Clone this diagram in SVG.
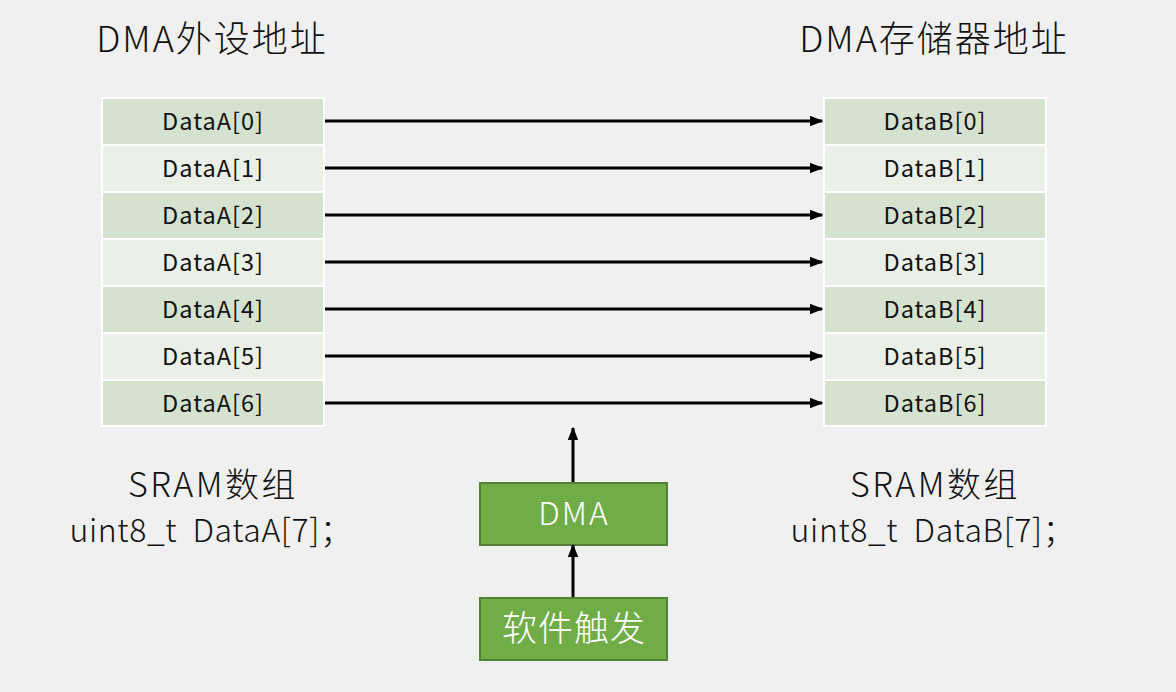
<svg xmlns="http://www.w3.org/2000/svg" width="1176" height="692" viewBox="0 0 1176 692">
<defs>
<marker id="ah" viewBox="0 0 10 10" refX="9" refY="5" markerWidth="4.5" markerHeight="3.5" markerUnits="strokeWidth" orient="auto" preserveAspectRatio="none">
<path d="M0,0 L10,5 L0,10 z" fill="#000"/>
</marker>
<style>
.t{font-family:"Noto Sans CJK SC","Noto Sans",sans-serif;fill:#111;text-anchor:middle;font-weight:300;white-space:pre}
.cell{font-size:23.5px;letter-spacing:1px;font-weight:400}
.title{font-size:36px;letter-spacing:2px}
.sram{font-size:34px;letter-spacing:2.5px}
.decl{font-size:32px;letter-spacing:0.6px}
.dk{fill:#d5e2cf;stroke:#fff;stroke-width:2}
.lt{fill:#eaf0e7;stroke:#fff;stroke-width:2}
.gb{fill:#70ad47;stroke:#548235;stroke-width:2}
.w{fill:#fff}
.ar{stroke:#000;stroke-width:3;fill:none;marker-end:url(#ah)}
</style>
</defs>
<rect width="1176" height="692" fill="#f0f0f0"/>
<text class="t title" x="212" y="52">DMA外设地址</text>
<text class="t title" x="934" y="52">DMA存储器地址</text>
<g id="arrayA">
<rect class="dk" x="102" y="98" width="222" height="47"/>
<rect class="lt" x="102" y="145" width="222" height="47"/>
<rect class="dk" x="102" y="192" width="222" height="47"/>
<rect class="lt" x="102" y="239" width="222" height="47"/>
<rect class="dk" x="102" y="286" width="222" height="47"/>
<rect class="lt" x="102" y="333" width="222" height="47"/>
<rect class="dk" x="102" y="380" width="222" height="46"/>
<text class="t cell" x="213" y="130">DataA[0]</text>
<text class="t cell" x="213" y="177">DataA[1]</text>
<text class="t cell" x="213" y="224">DataA[2]</text>
<text class="t cell" x="213" y="271">DataA[3]</text>
<text class="t cell" x="213" y="318">DataA[4]</text>
<text class="t cell" x="213" y="365">DataA[5]</text>
<text class="t cell" x="213" y="412">DataA[6]</text>
</g>
<g id="arrayB">
<rect class="dk" x="824" y="98" width="222" height="47"/>
<rect class="lt" x="824" y="145" width="222" height="47"/>
<rect class="dk" x="824" y="192" width="222" height="47"/>
<rect class="lt" x="824" y="239" width="222" height="47"/>
<rect class="dk" x="824" y="286" width="222" height="47"/>
<rect class="lt" x="824" y="333" width="222" height="47"/>
<rect class="dk" x="824" y="380" width="222" height="46"/>
<text class="t cell" x="935" y="130">DataB[0]</text>
<text class="t cell" x="935" y="177">DataB[1]</text>
<text class="t cell" x="935" y="224">DataB[2]</text>
<text class="t cell" x="935" y="271">DataB[3]</text>
<text class="t cell" x="935" y="318">DataB[4]</text>
<text class="t cell" x="935" y="365">DataB[5]</text>
<text class="t cell" x="935" y="412">DataB[6]</text>
</g>
<g id="labelA">
<text class="t sram" x="213" y="497">SRAM数组</text>
<text class="t decl" x="211" y="542">uint8_t  DataA[7]；</text>
</g>
<g id="labelB">
<text class="t sram" x="935" y="497">SRAM数组</text>
<text class="t decl" x="933" y="542">uint8_t  DataB[7]；</text>
</g>
<g id="dma">
<rect class="gb" x="480" y="483" width="187" height="62"/>
<text class="t w" x="574" y="525" font-size="32" letter-spacing="2">DMA</text>
</g>
<g id="trigger">
<rect class="gb" x="480" y="598" width="187" height="62"/>
<text class="t w" x="574" y="641" font-size="35" letter-spacing="1">软件触发</text>
</g>
<g id="connectors">
<line class="ar" x1="325" y1="121" x2="822" y2="121"/>
<line class="ar" x1="325" y1="168" x2="822" y2="168"/>
<line class="ar" x1="325" y1="215" x2="822" y2="215"/>
<line class="ar" x1="325" y1="262" x2="822" y2="262"/>
<line class="ar" x1="325" y1="309" x2="822" y2="309"/>
<line class="ar" x1="325" y1="356" x2="822" y2="356"/>
<line class="ar" x1="325" y1="403" x2="822" y2="403"/>
<line class="ar" x1="573" y1="482" x2="573" y2="428"/>
<line class="ar" x1="573" y1="597" x2="573" y2="545"/>
</g>
</svg>
